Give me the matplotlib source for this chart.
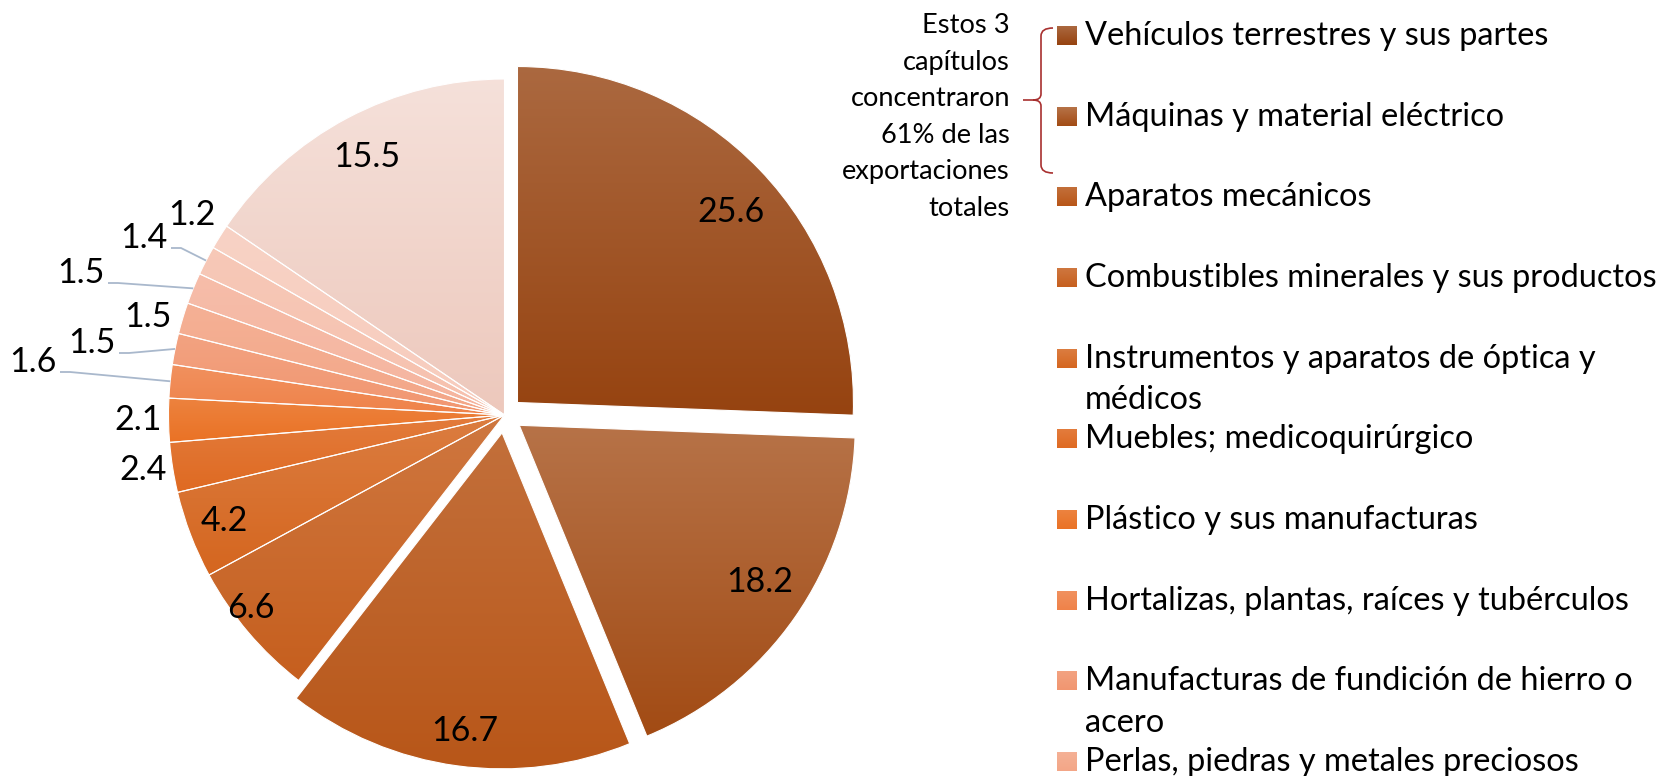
import numpy as np
import matplotlib
matplotlib.use("Agg")
import matplotlib.pyplot as plt
from matplotlib.path import Path
from matplotlib.patches import PathPatch
from matplotlib.colors import to_rgb

# ---------------- data ----------------
values = [25.6, 18.2, 16.7, 6.6, 4.2, 2.4, 2.1, 1.6, 1.5, 1.5, 1.5, 1.4, 1.2, 15.5]
legend_labels = [
    "Vehículos terrestres y sus partes",
    "Máquinas y material eléctrico",
    "Aparatos mecánicos",
    "Combustibles minerales y sus productos",
    "Instrumentos y aparatos de óptica y\nmédicos",
    "Muebles; medicoquirúrgico",
    "Plástico y sus manufacturas",
    "Hortalizas, plantas, raíces y tubérculos",
    "Manufacturas de fundición de hierro o\nacero",
    "Perlas, piedras y metales preciosos",
]
note_lines = ["Estos 3", "capítulos", "concentraron", "61% de las",
              "exportaciones", "totales"]

# ---------------- style / layout ----------------
W, H = 1665, 776
FONT = "Lato"
LABEL_FS, LEGEND_FS, NOTE_FS = 24.5, 23.4, 19.6
base_colors = ["#964310", "#A24B14", "#B85618", "#C65F1E", "#D5661F", "#DF6A22",
               "#EA7225", "#EF8249", "#F19670", "#F3A687", "#F5B49E", "#F6C1AE",
               "#F7CCBD", "#EDC8BC"]
tints = [0.2, 0.22, 0.15, 0.15, 0.15, 0.12, 0.12, 0.12, 0.12, 0.12, 0.12, 0.12,
         0.12, 0.45]
explode_px = [18, 18, 18] + [0] * 11
cx, cy_top, R = 504.5, 415, 336
cy = H - cy_top
# label centres (pixel coordinates from top)
label_pos = [(731, 212), (760, 582), (465, 731), (251, 608), (224, 521),
             (143, 470), (138, 420), (33, 362), (92, 343), (148, 317),
             (81, 273), (144, 238), (192, 215), (367, 157)]
leader_idx = [7, 8, 10, 11]


def mix_white(c, t):
    c = np.array(to_rgb(c))
    return c * (1 - t) + t


def grad_array(base, t, n=256):
    bot = np.array(to_rgb(base))
    top = mix_white(base, t)
    s = np.linspace(0, 1, n)[:, None]
    arr = bot * (1 - s) + top * s
    return arr[:, None, :]


fig = plt.figure(figsize=(W / 100, H / 100), dpi=100)
ax = fig.add_axes([0, 0, 1, 1])

wedges, _ = ax.pie(values, center=(cx, cy), radius=R, startangle=90,
                   counterclock=False, explode=explode_px, colors=base_colors,
                   wedgeprops=dict(edgecolor="white", linewidth=0.8))

for w, base, t in zip(wedges, base_colors, tints):
    verts = w.get_path().vertices
    x0, x1 = verts[:, 0].min(), verts[:, 0].max()
    y0, y1 = verts[:, 1].min(), verts[:, 1].max()
    im = ax.imshow(grad_array(base, t), extent=[x0, x1, y0, y1], origin="lower",
                   aspect="auto", interpolation="bilinear", zorder=0.9)
    im.set_clip_path(w)
    w.set_facecolor("none")

# value labels
for i, (v, (lx, ly)) in enumerate(zip(values, label_pos)):
    ax.text(lx, H - ly, f"{v:.1f}", ha="center", va="center", fontsize=LABEL_FS,
            family=FONT, color="black", zorder=5)

# leader lines
for i in leader_idx:
    w = wedges[i]
    th = np.deg2rad((w.theta1 + w.theta2) / 2)
    ex, ey = cx + R * np.cos(th), cy + R * np.sin(th)
    lx, ly = label_pos[i]
    sx, sy = lx + 27, H - (ly + 10)
    ax.plot([sx, sx + 10, ex], [sy, sy, ey], color="#A9B8CC", lw=1.3,
            solid_capstyle="butt", zorder=4)

# legend (manual, Excel-like uniform slots)
leg_x_box, leg_x_text = 1057, 1085
first_base, step, line_step = 45, 80.67, 41.4
for i, lab in enumerate(legend_labels):
    yb = first_base + i * step
    y0, y1 = H - (yb + 0), H - (yb - 19)
    ax.imshow(grad_array(base_colors[i], tints[i]),
              extent=[leg_x_box, leg_x_box + 20, y0, y1], origin="lower",
              aspect="auto", interpolation="bilinear", zorder=2)
    for k, line in enumerate(lab.split("\n")):
        ax.text(leg_x_text, H - (yb + k * line_step), line, ha="left",
                va="baseline", fontsize=LEGEND_FS, family=FONT, color="black")

# note text
for k, line in enumerate(note_lines):
    ax.text(1010, H - (33 + k * 36.6), line, ha="right", va="baseline",
            fontsize=NOTE_FS, family=FONT, color="black")

# curly bracket
bx, tipx, top, mid, bot = 1041, 1023, 28, 100, 173
pts = [(1053, top), (bx, top), (bx, top + 8), (bx, mid - 6), (bx, mid), (bx - 8, mid),
       (tipx, mid), (bx - 8, mid), (bx, mid), (bx, mid + 6), (bx, bot - 8),
       (bx, bot), (1053, bot)]
codes = [Path.MOVETO, Path.CURVE3, Path.CURVE3, Path.LINETO, Path.CURVE3,
         Path.CURVE3, Path.LINETO, Path.MOVETO, Path.CURVE3, Path.CURVE3,
         Path.LINETO, Path.CURVE3, Path.CURVE3]
pts = [(x, H - y) for x, y in pts]
ax.add_patch(PathPatch(Path(pts, codes), facecolor="none", edgecolor="#A8302F",
                       lw=1.2, zorder=3))

ax.set_xlim(0, W)
ax.set_ylim(0, H)
ax.set_aspect("auto")
ax.axis("off")
fig.savefig("out.png", dpi=100)
